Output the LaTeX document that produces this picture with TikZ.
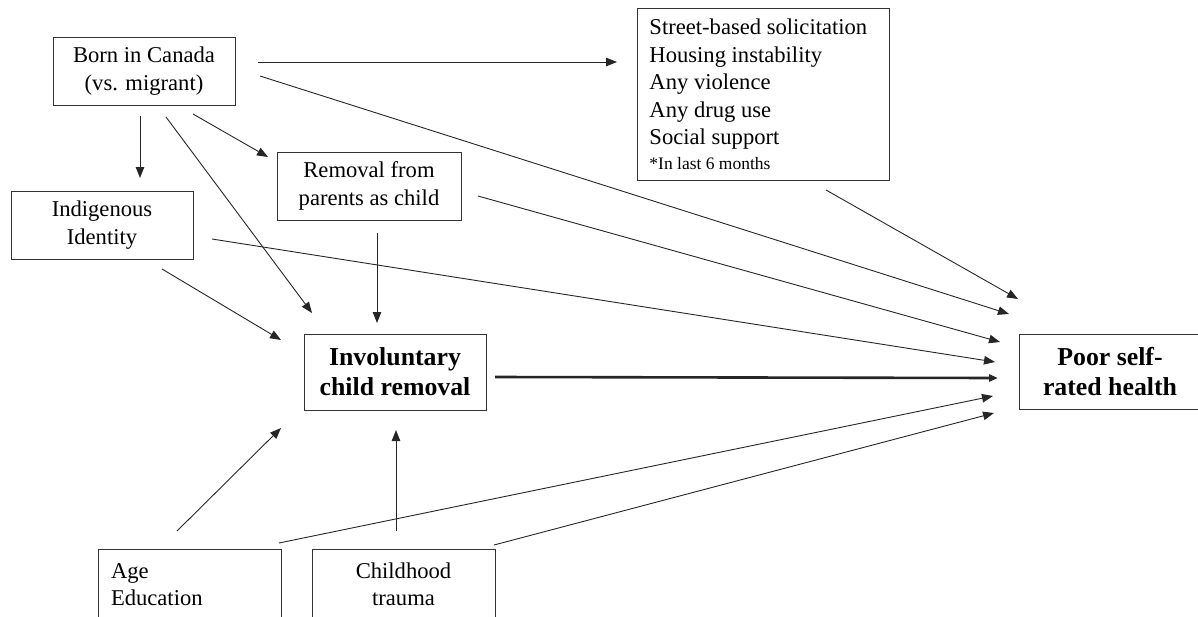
\documentclass[tikz,border=0pt]{standalone}
\usepackage{fontspec}
\setmainfont{Liberation Serif}
\usetikzlibrary{arrows.meta}
\begin{document}
\begin{tikzpicture}[x=1pt,y=-1pt,
  box/.style={draw=black!80,line width=0.9pt,rectangle,inner sep=0pt,
    font=\fontsize{22.6}{27.5}\selectfont,align=center},
  boldbox/.style={box,font=\fontsize{25.8}{30}\selectfont\bfseries},
  arr/.style={draw=black!85,line width=0.9pt,-{Triangle[length=11pt,width=8.5pt]}},
  thickarr/.style={arr,line width=2.6pt,-{Triangle[length=9pt,width=7pt]}}]
\useasboundingbox (0,0) rectangle (1198,616);
% boxes
\node[box,minimum width=182pt,minimum height=68pt] (born) at (144,71) {Born in Canada\\(vs. migrant)};
\node[box,minimum width=182pt,minimum height=68pt] (indig) at (102,225) {Indigenous\\Identity};
\node[box,minimum width=184pt,minimum height=68pt] (removal) at (369,186) {Removal from\\parents as child};
\node[box,anchor=north west,minimum width=252pt,minimum height=172pt,text width=228pt,
  inner xsep=12pt,align=flush left] (street) at (637,8)
  {Street-based solicitation\\Housing instability\\Any violence\\Any drug use\\Social support\\[-3pt]
   {\fontsize{17.5}{20}\selectfont *In last 6 months}};
\node[boldbox,minimum width=182pt,minimum height=76pt] (inv) at (395,372) {Involuntary\\child removal};
\node[boldbox,minimum width=182pt,minimum height=75pt] (poor) at (1110,371.5) {Poor self-\\rated health};
\node[box,minimum width=183pt,minimum height=71pt,text width=157pt,inner xsep=13pt,align=flush left] (age) at (189.5,584.5) {Age\\Education};
\node[box,minimum width=183pt,minimum height=71pt] (trauma) at (403.5,584.5) {Childhood\\trauma};
% connector end points (arrows float free of the boxes)
\coordinate (born-s) at (258,62);   \coordinate (street-w) at (617,62);
\coordinate (born-p) at (260,76);   \coordinate (poor-b) at (1009,314);
\coordinate (street-p) at (826,190); \coordinate (poor-s) at (1018,299);
\coordinate (removal-p) at (478,196); \coordinate (poor-r) at (1000,342);
\coordinate (indig-p) at (212,239); \coordinate (poor-i) at (995,362);
\coordinate (inv-p) at (495,377);   \coordinate (poor-v) at (998,378);
\coordinate (age-p) at (279,543);   \coordinate (poor-a) at (993,396);
\coordinate (trauma-p) at (494,545); \coordinate (poor-t) at (994,413);
\coordinate (born-i) at (140,116);  \coordinate (indig-n) at (140,178);
\coordinate (born-r) at (193,114);  \coordinate (removal-w) at (268,157);
\coordinate (born-v) at (166,117);  \coordinate (inv-b) at (312,313);
\coordinate (indig-v) at (162,269); \coordinate (inv-i) at (281,340);
\coordinate (removal-v) at (377,233); \coordinate (inv-r) at (377,323);
\coordinate (age-v) at (177,531);   \coordinate (inv-a) at (281,428);
\coordinate (trauma-v) at (396,531); \coordinate (inv-t) at (396,430);
% connectors
\draw[arr] (born-s) -- (street-w);
\draw[arr] (born-p) -- (poor-b);
\draw[arr] (street-p) -- (poor-s);
\draw[arr] (removal-p) -- (poor-r);
\draw[arr] (indig-p) -- (poor-i);
\draw[thickarr] (inv-p) -- (poor-v);
\draw[arr] (age-p) -- (poor-a);
\draw[arr] (trauma-p) -- (poor-t);
\draw[arr] (born-i) -- (indig-n);
\draw[arr] (born-r) -- (removal-w);
\draw[arr] (born-v) -- (inv-b);
\draw[arr] (indig-v) -- (inv-i);
\draw[arr] (removal-v) -- (inv-r);
\draw[arr] (age-v) -- (inv-a);
\draw[arr] (trauma-v) -- (inv-t);
\end{tikzpicture}
\end{document}
